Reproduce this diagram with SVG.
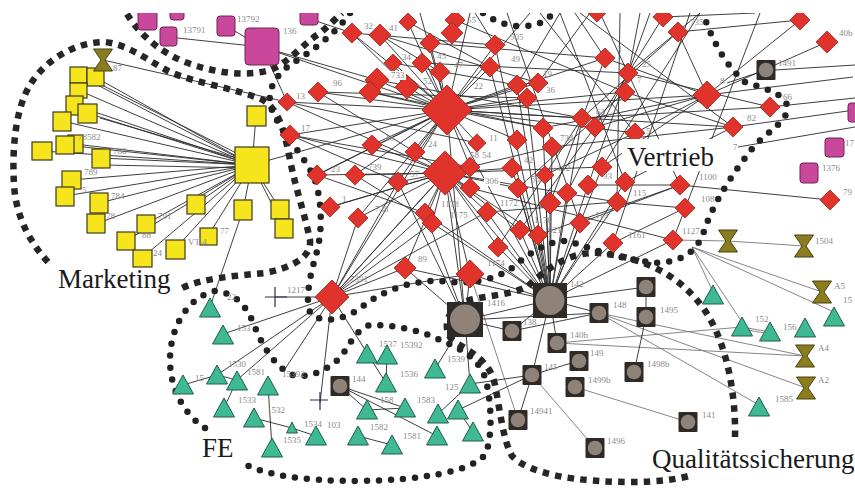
<svg xmlns="http://www.w3.org/2000/svg" xmlns:xlink="http://www.w3.org/1999/xlink" width="855" height="490" viewBox="0 0 855 490">
<style>
.e{fill:none;stroke:#2a2a2a;stroke-width:1;stroke-opacity:0.9}
.e2{fill:none;stroke:#777;stroke-width:0.9}
.sq{fill:none;stroke:#262626;stroke-width:6.5;stroke-dasharray:6.5 6.2}
.rdot{fill:none;stroke:#222;stroke-width:6.5;stroke-linecap:round;stroke-dasharray:0 12}
.rd{fill:#df332b;stroke:#a8261f;stroke-width:0.8}
.yl{fill:#f6e41c;stroke:#3d3a20;stroke-width:1.2}
.pk{fill:#c9489b;stroke:#6e2552;stroke-width:1}
.tri{fill:#3fb894;stroke:#1f5e48;stroke-width:1}
.hgs{fill:#8a7d20;stroke:#4a4210;stroke-width:1}
.lb{font-family:"Liberation Serif",serif;font-size:9px;fill:#8a8a8a}
.big{font-family:"Liberation Serif",serif;font-size:27px;fill:#1a1a1a}
.cr{stroke:#2a2a50;stroke-width:1.2;fill:none}
</style>
<defs>
<clipPath id="clip"><rect x="0" y="13" width="855" height="477"/></clipPath>
<rect id="d9" class="rd" x="-6.4" y="-6.4" width="12.8" height="12.8" transform="rotate(45)"/>
<rect id="d10" class="rd" x="-7.1" y="-7.1" width="14.2" height="14.2" transform="rotate(45)"/>
<rect id="d11" class="rd" x="-7.8" y="-7.8" width="15.6" height="15.6" transform="rotate(45)"/>
<rect id="d12" class="rd" x="-8.5" y="-8.5" width="17" height="17" transform="rotate(45)"/>
<path id="tg" class="tri" d="M0,-10 L10.5,9 L-10.5,9Z"/>
<path id="hg" class="hgs" d="M-9.5,-11 H9.5 L2,0 L9.5,11 H-9.5 L-2,0Z"/>
<g id="bn"><rect x="-9.5" y="-10" width="19" height="20" rx="1" fill="#2f2a26"/><circle r="7.3" fill="#8f8279"/></g>
</defs>
<rect width="855" height="490" fill="#fff"/>
<g clip-path="url(#clip)">
<g id="connectors">
<path class="e" d="M252 165L78 75M252 165L95 77M252 165L78 90M252 165L74 105M252 165L87 113M252 165L62 121M252 165L75 144M252 165L65 145M252 165L42 151M252 165L101 158M252 165L71 180M252 165L65 196M252 165L99 203M252 165L96 224M252 165L196 204M252 165L146 224M252 165L126 241M252 165L142 258M252 165L175 249M252 165L208 236M252 165L243 210M252 165L280 209M252 165L284 228M252 165L256 116M252 165L447 110M243 210L210 307M250 160L92 80M250 162L100 118M250 168L105 165"/>
<path class="e" d="M168 37L262 47M226 26L262 47M262 47L287 102M262 47L377 80M262 47L447 110M103 60L287 102M310 19L352 33"/>
<path class="e" d="M447 110L318 92M447 110L287 102M447 110L290 135M447 110L372 145M447 110L415 152M447 110L352 33M447 110L380 35M447 110L408 22M447 110L430 43M447 110L393 63M447 110L422 63M447 110L440 72M447 110L407 87M447 110L377 80M447 110L370 92M447 110L477 143M447 110L517 140M447 110L543 128M447 110L582 118M447 110L490 67M447 110L495 45M447 110L517 85M447 110L538 83M447 110L527 98M447 110L470 167M447 110L398 182M447 110L355 175M447 110L317 175M447 110L707 95M447 110L605 58M447 110L625 92M447 110L733 127M447 110L635 133M447 110L420 13M447 110L470 13M447 110L530 13"/>
<path class="e" d="M445 173L398 182M445 173L355 175M445 173L330 207M445 173L358 218M445 173L425 213M445 173L432 223M445 173L487 212M445 173L470 188M445 173L512 168M445 173L518 188M445 173L470 167M445 173L332 297M445 173L405 268M445 173L470 274M445 173L498 247M445 173L520 230M445 173L538 235M445 173L317 175M445 173L290 135M445 173L372 145M445 173L415 152M445 173L552 147M445 173L617 202M445 173L602 167"/>
<path class="e" d="M550 300L470 274M550 300L498 247M550 300L520 230M550 300L538 235M550 300L550 203M550 300L580 223M550 300L613 243M550 300L567 193M550 300L487 212M550 300L432 223M550 300L425 213M550 300L518 188M550 300L512 168M550 300L545 175M550 300L588 185M550 300L617 202M550 300L625 182M550 300L602 167M550 300L582 118M550 300L543 128M550 300L527 98M550 300L552 147M550 300L673 240M550 300L405 268M550 300L495 45M550 300L517 85M550 300L490 67M550 300L447 110M550 300L445 173"/>
<path class="e" d="M352 33L495 45M380 35L538 83M408 22L490 67M318 92L527 98M377 80L582 118M290 135L470 167M370 92L543 128M287 102L477 143M393 63L517 85M430 43L605 58M422 63L628 73M455 20L625 92M495 45L475 13M517 85L560 13M538 83L590 13M605 58L575 13M625 92L640 13M628 73L700 13M600 13L680 185M620 13L617 202M650 13L588 185M560 13L625 182M700 13L602 167M540 13L635 133M580 13L733 127M663 17L595 127M678 32L582 118M678 32L707 95M605 58L707 95M628 73L770 107M625 92L733 127M635 133L707 95M582 118L770 107M595 127L707 95M602 167L707 95M625 182L733 127M588 185L680 185M617 202L685 208M580 223L680 185M613 243L685 208M543 128L707 95M552 147L733 127M545 175L635 133M518 188L625 92M567 193L628 73M550 203L605 58M520 230L595 127M538 235L680 185M498 247L582 118M487 212L617 202M470 188L673 240M580 223L507 13M290 135L398 182M317 175L447 110M287 102L445 173M318 92L415 152M352 33L407 87M380 35L440 72M330 207L445 173M358 218L447 110M317 175L425 213M355 175L432 223M663 17L755 13M690 13L613 243M760 13L673 240"/>
<path class="e" d="M707 95L853 77M707 95L800 20M707 95L827 42M733 127L855 110M738 147L855 127M680 185L830 200M766 70L727 83M775 70L855 65M770 107L855 98M678 32L800 20"/>
<path class="e2" d="M673 240L728 241M728 241L804 246M692 247L822 292M692 247L834 312M692 247L742 322M692 247L713 292M742 327L770 332M742 329L770 334M599 313L805 356M599 313L806 388M599 313L759 405M557 343L805 356M557 343L742 327M575 387L688 422M532 375L595 448M470 274L518 420"/>
<path class="e" d="M646 287L646 317M646 317L634 372M532 375L578 361M550 300L532 375M532 375L518 420M532 375L470 384M532 375L458 410M550 300L646 287M550 300L599 313M550 300L557 343M550 300L512 331M465 320L550 300M599 313L512 331M465 320L599 313"/>
<path class="e" d="M332 297L275 297M332 297L223 334M332 297L217 375M332 297L237 380M332 297L283 372M332 297L320 403M332 297L367 353M332 297L358 218M332 297L405 268M332 297L445 173M332 297L447 110M332 297L398 182M332 297L470 274M332 297L425 213M332 297L487 212M332 297L432 223"/>
<path class="e" d="M183 385L217 375M217 375L237 380M268 385L272 448M254 418L292 428M237 380L224 408M340 386L405 408M340 386L437 436M358 436L392 445M367 410L405 408M438 414L470 384M387 355L386 383M367 353L386 383M292 428L316 436M340 386L367 410M458 410L473 432M465 320L470 384M465 320L435 369M465 320L405 268M465 320L470 274M465 320L398 182M465 320L445 173M465 320L447 110M465 320L425 213M465 320L512 331"/>
<path class="cr" d="M265 297H287M275 287V307M310 400H328M320 392V410"/>
</g>
<g id="boundaries">
<path id="b_marketing" class="sq" d="M48 262C28 240 16 215 14 185C12 150 15 110 30 85C45 60 75 42 105 42C130 45 150 62 170 72C195 83 235 88 263 100C280 110 285 135 290 160C296 190 305 215 310 240C312 258 290 268 265 273C235 276 200 278 178 290"/>
<path id="b_pink" class="sq" d="M127 14C140 35 160 52 185 62C215 73 245 77 270 70C290 62 305 42 320 33C330 25 336 18 342 13"/>
<path id="b_vertrieb" class="rdot" d="M350 13C335 35 310 52 290 65C272 78 266 95 272 110C282 135 305 155 315 180C323 205 322 235 316 255C310 275 305 300 310 312C320 325 345 320 362 307C380 292 410 280 440 281C470 285 495 280 512 268C530 252 550 240 568 241C590 248 620 260 660 263C690 260 700 245 705 228C715 200 735 170 755 145C770 130 790 120 787 105C782 92 762 88 745 82C725 65 712 40 703 13"/>
<path id="b_top" class="rdot" d="M483 13C495 22 510 27 525 26C540 25 548 20 553 13"/>
<path id="b_fe" class="rdot" d="M205 428C185 415 170 390 170 360C170 330 185 300 213 291C235 292 245 305 252 320C260 340 270 362 290 374C305 380 325 372 340 358C350 345 355 330 370 325C395 325 420 330 440 340C465 350 483 362 487 385C492 410 492 440 485 455C470 472 420 480 360 481C300 481 265 475 240 462"/>
<path id="b_qs" class="sq" d="M735 437C736 390 725 330 695 298C675 275 645 258 600 253C570 251 548 268 528 286C512 295 490 295 470 300C450 305 440 325 452 340C470 352 490 360 495 385C500 410 503 440 512 456C530 475 580 482 630 482C660 482 680 479 692 475"/>
</g>
<g id="nodes-pink">
<g id="p1"><rect class="pk" x="138" y="8" width="19" height="22" rx="3"/></g>
<g id="p2"><rect class="pk" x="170" y="2" width="14" height="18" rx="3"/></g>
<g id="p3"><rect class="pk" x="160" y="27" width="17" height="19" rx="3"/><text class="lb" x="183" y="33">13791</text></g>
<g id="p4"><rect class="pk" x="217" y="16" width="18" height="20" rx="3"/><text class="lb" x="237" y="22">13792</text></g>
<g id="p5"><rect class="pk" x="245" y="28" width="34" height="37" rx="4"/><text class="lb" x="283" y="34">136</text></g>
<g id="p6"><rect class="pk" x="300" y="5" width="18" height="20" rx="3"/></g>
<g id="p7"><rect class="pk" x="848" y="103" width="12" height="19" rx="3"/></g>
<g id="p8"><rect class="pk" x="825" y="138" width="19" height="19" rx="3"/><text class="lb" x="845" y="146">17</text></g>
<g id="p9"><rect class="pk" x="800" y="163" width="18" height="20" rx="3"/><text class="lb" x="822" y="171">1376</text></g>
</g>
<g id="nodes-yellow">
<g id="y1"><rect class="yl" x="70" y="67" width="17" height="16"/></g>
<g id="y2"><rect class="yl" x="87" y="68" width="17" height="18"/></g>
<g id="y3"><rect class="yl" x="70" y="83" width="17" height="15"/></g>
<g id="y4"><rect class="yl" x="66" y="96" width="17" height="19"/></g>
<g id="y5"><rect class="yl" x="78" y="104" width="19" height="19"/></g>
<g id="y6"><rect class="yl" x="53" y="112" width="18" height="19"/></g>
<g id="y7"><rect class="yl" x="68" y="135" width="15" height="18"/></g>
<g id="y8"><rect class="yl" x="56" y="136" width="18" height="18"/><text class="lb" x="78" y="140">78582</text></g>
<g id="y9"><rect class="yl" x="32" y="142" width="20" height="18"/></g>
<g id="y10"><rect class="yl" x="92" y="149" width="18" height="19"/><text class="lb" x="113" y="154">788</text></g>
<g id="y11"><rect class="yl" x="62" y="171" width="19" height="18"/><text class="lb" x="84" y="175">789</text></g>
<g id="y12"><rect class="yl" x="56" y="187" width="18" height="19"/><text class="lb" x="82" y="193">5</text></g>
<g id="y13"><rect class="yl" x="90" y="193" width="18" height="20"/><text class="lb" x="111" y="199">784</text></g>
<g id="y14"><rect class="yl" x="87" y="214" width="18" height="19"/><text class="lb" x="106" y="219">78</text></g>
<g id="y15"><rect class="yl" x="187" y="195" width="18" height="19"/></g>
<g id="y16"><rect class="yl" x="137" y="215" width="18" height="18"/><text class="lb" x="158" y="219">791</text></g>
<g id="y17"><rect class="yl" x="117" y="232" width="18" height="18"/></g>
<g id="y18"><rect class="yl" x="133" y="250" width="19" height="17"/><text class="lb" x="142" y="238">88</text></g>
<g id="y19"><rect class="yl" x="166" y="240" width="19" height="19"/><text class="lb" x="153" y="256">24</text></g>
<g id="y20"><rect class="yl" x="200" y="228" width="17" height="17"/><text class="lb" x="188" y="245">VT-4</text></g>
<g id="y21"><rect class="yl" x="234" y="200" width="18" height="20"/><text class="lb" x="220" y="234">77</text></g>
<g id="y22"><rect class="yl" x="271" y="200" width="18" height="19"/></g>
<g id="y23"><rect class="yl" x="275" y="219" width="18" height="19"/></g>
<g id="y24"><rect class="yl" x="247" y="106" width="19" height="20"/></g>
<g id="yhub"><rect class="yl" x="235" y="147" width="34" height="36"/></g>
</g>
<g id="nodes-hourglass">
<g id="h1"><use href="#hg" x="103" y="60"/><text class="lb" x="113" y="71">87</text></g>
<g id="h2"><use href="#hg" x="728" y="241"/></g>
<g id="h3"><use href="#hg" x="804" y="246"/><text class="lb" x="815" y="244">1504</text></g>
<g id="h4"><use href="#hg" x="822" y="292"/><text class="lb" x="834" y="289">A5</text></g>
<g id="h5"><use href="#hg" x="805" y="356"/><text class="lb" x="818" y="351">A4</text></g>
<g id="h6"><use href="#hg" x="806" y="388"/><text class="lb" x="818" y="383">A2</text></g>
</g>
<g id="nodes-red">
<g id="r1"><use href="#d9" x="408" y="22"/><text class="lb" x="389" y="31">41</text></g>
<g id="r2"><use href="#d10" x="352" y="33"/><text class="lb" x="364" y="29">32</text></g>
<g id="r3"><use href="#d11" x="380" y="35"/></g>
<g id="r4"><use href="#d10" x="455" y="20"/></g>
<g id="r5"><use href="#d11" x="452" y="33"/><text class="lb" x="467" y="23">55</text></g>
<g id="r6"><use href="#d10" x="430" y="43"/><text class="lb" x="437" y="59">45</text></g>
<g id="r7"><use href="#d10" x="495" y="45"/><text class="lb" x="510" y="40">505</text></g>
<g id="r8"><use href="#d9" x="393" y="63"/><text class="lb" x="402" y="60">34</text></g>
<g id="r9"><use href="#d10" x="422" y="63"/></g>
<g id="r10"><use href="#d10" x="440" y="72"/><text class="lb" x="454" y="68">47</text></g>
<g id="r11"><use href="#d10" x="490" y="67"/><text class="lb" x="511" y="62">49</text></g>
<g id="r12"><use href="#d12" x="377" y="80"/></g>
<g id="r13"><use href="#d12" x="407" y="87"/><rect x="390" y="71" width="16" height="9" fill="#fff"/><text class="lb" x="391" y="78">733</text><text class="lb" x="423" y="84">52</text></g>
<g id="r14"><use href="#d10" x="517" y="85"/></g>
<g id="r15"><use href="#d10" x="538" y="83"/><text class="lb" x="543" y="77">19</text></g>
<g id="r16"><use href="#d11" x="370" y="92"/></g>
<g id="r17"><use href="#d10" x="527" y="98"/><text class="lb" x="546" y="93">36</text></g>
<g id="r18"><use href="#d10" x="318" y="92"/><text class="lb" x="296" y="99">13</text><text class="lb" x="333" y="86">96</text></g>
<g id="r19"><use href="#d9" x="287" y="102"/></g>
<g id="R1"><rect class="rd" x="-17.7" y="-17.7" width="35.4" height="35.4" transform="translate(447 110) rotate(45)"/><text class="lb" x="474" y="89">22</text></g>
<g id="r21"><use href="#d10" x="543" y="128"/></g>
<g id="r22"><use href="#d10" x="290" y="135"/><text class="lb" x="301" y="131">17</text></g>
<g id="r23"><use href="#d10" x="372" y="145"/><text class="lb" x="385" y="141">16</text></g>
<g id="r24"><use href="#d10" x="415" y="152"/><text class="lb" x="428" y="147">24</text></g>
<g id="r25"><use href="#d9" x="477" y="143"/><text class="lb" x="489" y="141">11</text></g>
<g id="r26"><use href="#d10" x="517" y="140"/></g>
<g id="r27"><use href="#d10" x="552" y="147"/><text class="lb" x="560" y="141">734</text></g>
<g id="R2"><rect class="rd" x="-15.6" y="-15.6" width="31.2" height="31.2" transform="translate(445 173) rotate(45)"/><text class="lb" x="441" y="207">1178</text></g>
<g id="r28"><use href="#d10" x="470" y="167"/><text class="lb" x="470" y="158">58</text><text class="lb" x="482" y="158">54</text></g>
<g id="r29"><use href="#d10" x="512" y="168"/><text class="lb" x="524" y="163">42</text></g>
<g id="r30"><use href="#d9" x="545" y="175"/><text class="lb" x="557" y="171">112</text></g>
<g id="r31"><use href="#d10" x="470" y="188"/><rect x="484" y="177" width="16" height="9" fill="#fff"/><text class="lb" x="485" y="184">306</text></g>
<g id="r32"><use href="#d10" x="518" y="188"/><text class="lb" x="531" y="182">56</text></g>
<g id="r33"><use href="#d10" x="567" y="193"/></g>
<g id="r34"><use href="#d10" x="398" y="182"/><text class="lb" x="410" y="177">57</text></g>
<g id="r35"><use href="#d10" x="355" y="175"/><text class="lb" x="368" y="170">739</text></g>
<g id="r36"><use href="#d10" x="317" y="175"/><text class="lb" x="331" y="172">23</text></g>
<g id="r37"><use href="#d10" x="330" y="207"/><text class="lb" x="342" y="202">1</text></g>
<g id="r38"><use href="#d10" x="358" y="218"/><text class="lb" x="375" y="212">738</text></g>
<g id="r39"><use href="#d10" x="425" y="213"/></g>
<g id="r40"><use href="#d10" x="432" y="223"/><text class="lb" x="450" y="218">1175</text></g>
<g id="r41"><use href="#d10" x="487" y="212"/><text class="lb" x="500" y="206">1172</text></g>
<g id="r42"><use href="#d11" x="550" y="203"/></g>
<g id="r43"><use href="#d10" x="520" y="230"/><text class="lb" x="534" y="223">1176</text></g>
<g id="r44"><use href="#d10" x="538" y="235"/><text class="lb" x="548" y="233">921</text></g>
<g id="r45"><use href="#d10" x="498" y="247"/><text class="lb" x="487" y="266">1174</text></g>
<g id="r46"><use href="#d10" x="580" y="223"/><text class="lb" x="595" y="218">113</text></g>
<g id="r47"><use href="#d10" x="613" y="243"/><text class="lb" x="628" y="238">1161</text></g>
<g id="r48"><use href="#d10" x="673" y="240"/><text class="lb" x="682" y="234">1127</text></g>
<g id="r49"><use href="#d11" x="405" y="268"/><text class="lb" x="418" y="262">89</text></g>
<g id="r50"><rect class="rd" x="-9.9" y="-9.9" width="19.8" height="19.8" transform="translate(470 274) rotate(45)"/></g>
<g id="r1217"><rect class="rd" x="-12" y="-12" width="24" height="24" transform="translate(332 297) rotate(45)"/><text class="lb" x="287" y="293">1217</text><text class="lb" x="350" y="282">7391</text></g>
<g id="r51"><use href="#d9" x="597" y="13"/></g>
<g id="r52"><use href="#d10" x="663" y="17"/></g>
<g id="r53"><use href="#d10" x="678" y="32"/><text class="lb" x="690" y="25">735</text></g>
<g id="r54"><use href="#d10" x="800" y="20"/></g>
<g id="r55"><use href="#d11" x="827" y="42"/><text class="lb" x="839" y="36">40b</text></g>
<g id="r56"><use href="#d10" x="605" y="58"/><text class="lb" x="617" y="52">3</text></g>
<g id="r57"><use href="#d10" x="628" y="73"/><text class="lb" x="642" y="67">25</text></g>
<g id="r58"><use href="#d10" x="625" y="92"/><text class="lb" x="637" y="83">7</text></g>
<g id="r59"><rect class="rd" x="-9.9" y="-9.9" width="19.8" height="19.8" transform="translate(707 95) rotate(45)"/><text class="lb" x="720" y="84">8</text></g>
<g id="r60"><use href="#d10" x="770" y="107"/><text class="lb" x="783" y="100">66</text></g>
<g id="r61"><use href="#d10" x="733" y="127"/><text class="lb" x="747" y="121">82</text></g>
<g id="r62"><use href="#d10" x="582" y="118"/></g>
<g id="r63"><use href="#d10" x="595" y="127"/><text class="lb" x="596" y="115">63</text></g>
<g id="r64"><use href="#d10" x="635" y="133"/><text class="lb" x="646" y="134">5</text></g>
<g id="r65"><use href="#d10" x="602" y="167"/><text class="lb" x="603" y="179">93</text></g>
<g id="r66"><use href="#d10" x="625" y="182"/></g>
<g id="r67"><use href="#d10" x="588" y="185"/></g>
<g id="r69"><use href="#d10" x="617" y="202"/><text class="lb" x="633" y="196">115</text></g>
<g id="r70"><use href="#d10" x="680" y="185"/><text class="lb" x="699" y="180">1100</text></g>
<g id="r71"><use href="#d10" x="685" y="208"/><text class="lb" x="701" y="202">108</text></g>
<g id="r72"><use href="#d10" x="830" y="200"/><text class="lb" x="843" y="195">79</text></g>
<text class="lb" x="733" y="150">7</text>
</g>
<g id="nodes-brown">
<g id="b1"><rect x="533" y="283" width="34" height="35" fill="#2f2a26"/><circle cx="550" cy="300.5" r="14.5" fill="#8f8279"/><text class="lb" x="570" y="287">142</text></g>
<g id="b2"><rect x="447" y="302" width="36" height="35" fill="#2f2a26"/><circle cx="465" cy="319.5" r="15" fill="#8f8279"/></g>
<g id="b3"><use href="#bn" x="646" y="287"/></g>
<g id="b4"><use href="#bn" x="646" y="317"/><text class="lb" x="660" y="313">1495</text></g>
<g id="b5"><use href="#bn" x="599" y="313"/><text class="lb" x="613" y="308">148</text></g>
<g id="b6"><use href="#bn" x="512" y="331"/><text class="lb" x="487" y="306">1416</text><text class="lb" x="523" y="325">138</text></g>
<g id="b7"><use href="#bn" x="557" y="343"/><text class="lb" x="570" y="338">140b</text></g>
<g id="b8"><use href="#bn" x="579" y="361"/><text class="lb" x="590" y="356">149</text></g>
<g id="b9"><use href="#bn" x="532" y="375"/><text class="lb" x="544" y="370">145</text></g>
<g id="b10"><use href="#bn" x="634" y="372"/><text class="lb" x="647" y="367">1498b</text></g>
<g id="b11"><use href="#bn" x="575" y="387"/><text class="lb" x="588" y="383">1499b</text></g>
<g id="b12"><use href="#bn" x="518" y="420"/><text class="lb" x="530" y="414">14941</text></g>
<g id="b13"><use href="#bn" x="688" y="422"/><text class="lb" x="702" y="418">141</text></g>
<g id="b14"><use href="#bn" x="595" y="448"/><text class="lb" x="607" y="444">1496</text></g>
<g id="b15"><use href="#bn" x="766" y="70"/><text class="lb" x="778" y="66">1491</text></g>
<g id="b16"><use href="#bn" x="340" y="386"/><text class="lb" x="352" y="382">144</text></g>
</g>
<g id="nodes-green">
<g id="t1"><use href="#tg" x="210" y="308"/><text class="lb" x="227" y="300">22</text></g>
<g id="t2"><use href="#tg" x="223" y="335"/><text class="lb" x="237" y="331">153</text></g>
<g id="t3"><use href="#tg" x="183" y="385"/><text class="lb" x="195" y="381">15</text></g>
<g id="t4"><use href="#tg" x="217" y="375"/><text class="lb" x="228" y="367">1530</text></g>
<g id="t5"><use href="#tg" x="237" y="381"/><text class="lb" x="247" y="375">1581</text></g>
<g id="t6"><use href="#tg" x="268" y="386"/><text class="lb" x="282" y="377">15392</text></g>
<g id="t7"><use href="#tg" x="224" y="408"/><text class="lb" x="238" y="403">1533</text></g>
<g id="t8"><use href="#tg" x="254" y="418"/><text class="lb" x="267" y="413">1532</text></g>
<g id="t9"><use href="#tg" x="272" y="448"/><text class="lb" x="283" y="443">1535</text></g>
<g id="t10"><path class="tri" d="M292 422L297.5 433L286.5 433Z"/></g>
<g id="t11"><use href="#tg" x="316" y="436"/><text class="lb" x="304" y="427">1534</text><text class="lb" x="327" y="428">103</text></g>
<g id="t12"><use href="#tg" x="367" y="354"/><text class="lb" x="379" y="347">1537</text></g>
<g id="t13"><use href="#tg" x="387" y="355"/><text class="lb" x="400" y="348">15392</text></g>
<g id="t14"><use href="#tg" x="386" y="383"/><text class="lb" x="400" y="377">1536</text></g>
<g id="t15"><use href="#tg" x="367" y="410"/><text class="lb" x="380" y="403">158</text></g>
<g id="t16"><use href="#tg" x="405" y="408"/></g>
<g id="t17"><use href="#tg" x="358" y="436"/><text class="lb" x="370" y="430">1582</text></g>
<g id="t18"><use href="#tg" x="392" y="445"/><text class="lb" x="403" y="439">1581</text></g>
<g id="t19"><use href="#tg" x="435" y="369"/><text class="lb" x="447" y="362">1539</text></g>
<g id="t20"><use href="#tg" x="438" y="414"/><text class="lb" x="417" y="403">1583</text></g>
<g id="t21"><use href="#tg" x="458" y="410"/></g>
<g id="t22"><use href="#tg" x="470" y="384"/><text class="lb" x="445" y="390">125</text></g>
<g id="t23"><use href="#tg" x="437" y="436"/></g>
<g id="t24"><use href="#tg" x="473" y="432"/></g>
<g id="t26"><use href="#tg" x="713" y="295"/></g>
<g id="t27"><use href="#tg" x="742" y="327"/><text class="lb" x="755" y="322">152</text></g>
<g id="t28"><use href="#tg" x="770" y="332"/><text class="lb" x="783" y="330">156</text></g>
<g id="t29"><use href="#tg" x="805" y="328"/></g>
<g id="t30"><use href="#tg" x="834" y="317"/><text class="lb" x="843" y="303">15</text></g>
<g id="t31"><use href="#tg" x="759" y="407"/><text class="lb" x="775" y="402">1585</text></g>
</g>
<g id="cluster-labels">
<text class="big" x="58" y="288">Marketing</text>
<rect x="622" y="139" width="100" height="32" fill="#fff"/>
<text class="big" x="627" y="166">Vertrieb</text>
<text class="big" x="202" y="457">FE</text>
<text class="big" x="652" y="468">Qualitätssicherung</text>
</g>
</g>
</svg>
